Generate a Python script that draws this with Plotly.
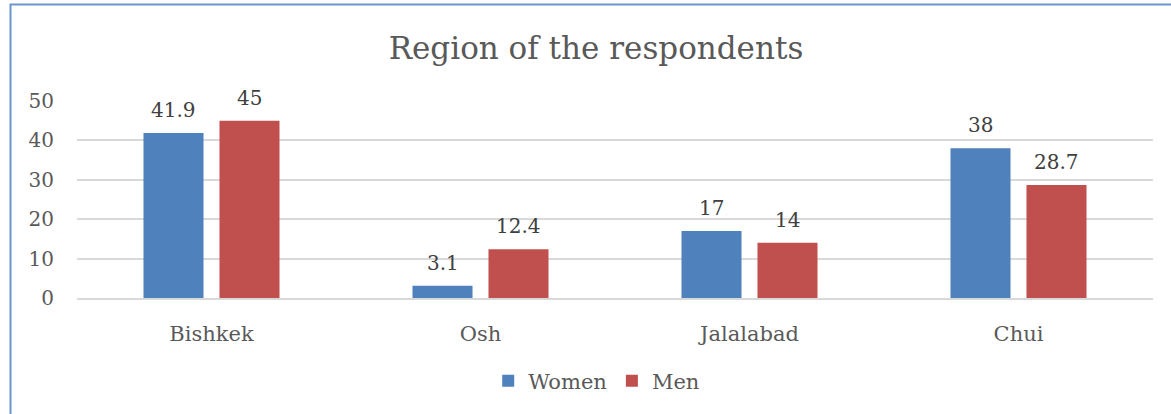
import plotly.graph_objects as go

regions = ["Bishkek", "Osh", "Jalalabad", "Chui"]
women = [41.9, 3.1, 17, 38]
men = [45, 12.4, 14, 28.7]
series_names = ["Women", "Men"]
y_ticks = [0, 10, 20, 30, 40, 50]

BLUE = "#4F81BD"
RED = "#C0504D"
TXT = "#595959"
FONT = "DejaVu Serif"

W, H = 1171, 414

fig = go.Figure()
fig.add_trace(go.Bar(name=series_names[0], x=regions, y=women, marker_color=BLUE,
                     marker_line_width=0))
fig.add_trace(go.Bar(name=series_names[1], x=regions, y=men, marker_color=RED,
                     marker_line_width=0))

# value labels above the bars
for vals, shift in [(women, -38), (men, 38)]:
    for r, v in zip(regions, vals):
        fig.add_annotation(x=r, y=v, text=f"{v:g}", showarrow=False, xshift=shift,
                           yshift=23, yanchor="middle",
                           font=dict(family=FONT, size=20, color="#404040"))

# chart frame (only left/top edges are in view)
fig.add_shape(type="rect", xref="paper", yref="paper", x0=-0.0618, x1=1.2,
              y0=-1.5, y1=1.4898, line=dict(color="#6A96CF", width=2), layer="below")

fig.update_layout(
    width=W, height=H,
    margin=dict(l=77, r=18, t=101, b=116),
    paper_bgcolor="white", plot_bgcolor="white",
    barmode="group", bargap=0.435, bargroupgap=0.21,
    title=dict(text="Region of the respondents", x=596 / W, xanchor="center",
               y=1 - 48 / H, yanchor="middle", yref="container",
               font=dict(family=FONT, size=31, color=TXT)),
    font=dict(family=FONT, size=20, color=TXT),
    legend=dict(orientation="h", x=0.483, xanchor="center", y=1 - 381 / H,
                yanchor="middle", yref="container", font=dict(size=21, color=TXT),
                itemwidth=30, traceorder="normal"),
    showlegend=True,
)
fig.update_xaxes(showgrid=False, showline=True, linecolor="#D9D9D9", linewidth=1.5,
                 ticks="", ticklabelstandoff=16, tickfont=dict(size=21, color=TXT))
fig.update_yaxes(range=[0, 50], tickvals=y_ticks, showgrid=True, gridcolor="#D9D9D9",
                 gridwidth=1.5, zeroline=False, showline=False, ticks="",
                 ticklabelstandoff=22, tickfont=dict(size=20, color=TXT))

# drop the default 8px page margin so the figure fills the window
fig.write_html("out.html", config={"displayModeBar": False},
               post_script="document.body.style.margin='0';")
